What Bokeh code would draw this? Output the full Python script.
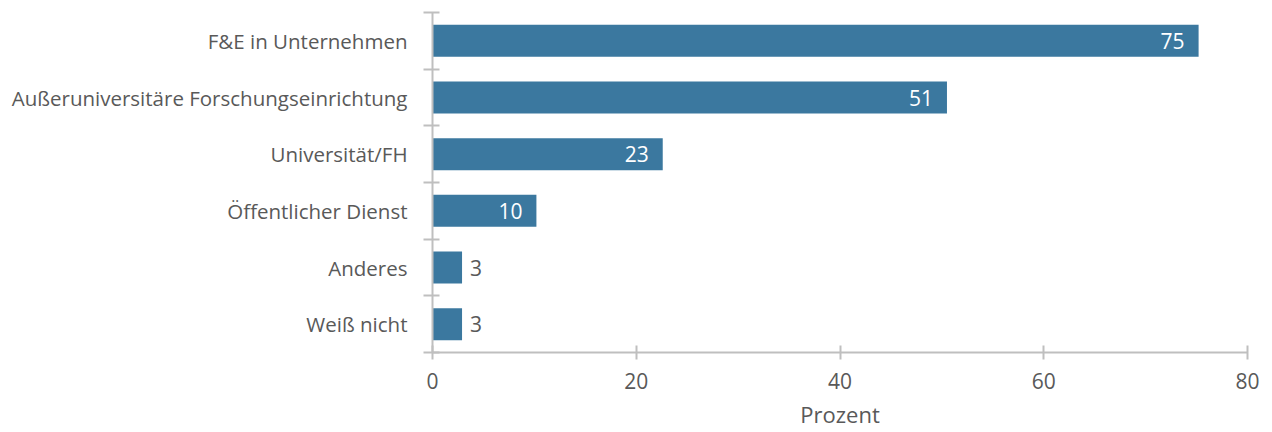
from bokeh.plotting import figure
from bokeh.models import Range1d, FixedTicker, ColumnDataSource, LabelSet
from bokeh.core.properties import value
from bokeh.embed import file_html
from bokeh.resources import INLINE

categories = ["F&E in Unternehmen", "Außeruniversitäre Forschungseinrichtung", "Universität/FH",
              "Öffentlicher Dienst", "Anderes", "Weiß nicht"]
values = [75.2, 50.5, 22.6, 10.2, 2.9, 2.9]
value_labels = ["75", "51", "23", "10", "3", "3"]
x_ticks = [0, 20, 40, 60, 80]
x_title = "Prozent"

n = len(categories)
centers = [i + 0.5 for i in range(n)]
bounds = [float(i) for i in range(n + 1)]

FONT = "Open Sans"
GREY_TXT = "#595959"
GREY_LINE = "#bfbfbf"
BAR = "#3b789f"

p = figure(width=1272, height=432, output_backend="svg", toolbar_location=None,
           x_range=Range1d(x_ticks[0], x_ticks[-1]), y_range=Range1d(n, 0),
           min_border_left=432, min_border_right=25, min_border_top=12, min_border_bottom=80)
p.outline_line_color = None
p.grid.grid_line_color = None

inside = [v >= 8 for v in values]
src = ColumnDataSource(dict(y=centers, right=values, lab=value_labels,
                            labin=[l if ins else "" for l, ins in zip(value_labels, inside)],
                            labout=[l if not ins else "" for l, ins in zip(value_labels, inside)]))
p.hbar(y="y", left=0, right="right", height=0.565, source=src, fill_color=BAR, line_color=None)

p.add_layout(LabelSet(x="right", y="y", text="labin", source=src, x_offset=-14,
                      text_align="right", text_baseline="middle", text_color="white",
                      text_font=value(FONT), text_font_size="21px"))
p.add_layout(LabelSet(x="right", y="y", text="labout", source=src, x_offset=8,
                      text_align="left", text_baseline="middle", text_color=GREY_TXT,
                      text_font=value(FONT), text_font_size="21px"))

# y axis
ya = p.yaxis[0]
ya.ticker = FixedTicker(ticks=centers, minor_ticks=bounds)
ya.major_label_overrides = {c: cat for c, cat in zip(centers, categories)}
ya.major_tick_in = 0
ya.major_tick_out = 0
ya.minor_tick_in = 7
ya.minor_tick_out = 9
ya.minor_tick_line_color = GREY_LINE
ya.minor_tick_line_width = 2
ya.axis_line_color = GREY_LINE
ya.axis_line_width = 2
ya.major_label_standoff = 16
ya.major_label_text_font = FONT
ya.major_label_text_font_size = "20.5px"
ya.major_label_text_color = GREY_TXT

# x axis
xa = p.xaxis[0]
xa.ticker = FixedTicker(ticks=x_ticks)
xa.major_tick_in = 7
xa.major_tick_out = 7
xa.major_tick_line_color = GREY_LINE
xa.major_tick_line_width = 2
xa.minor_tick_line_color = None
xa.axis_line_color = GREY_LINE
xa.axis_line_width = 2
xa.major_label_standoff = 13
xa.major_label_text_font = FONT
xa.major_label_text_font_size = "21px"
xa.major_label_text_color = GREY_TXT
xa.axis_label = x_title
xa.axis_label_standoff = 7
xa.axis_label_text_font = FONT
xa.axis_label_text_font_size = "22px"
xa.axis_label_text_font_style = "normal"
xa.axis_label_text_color = GREY_TXT

open("out.html", "w").write(file_html(p, INLINE))
